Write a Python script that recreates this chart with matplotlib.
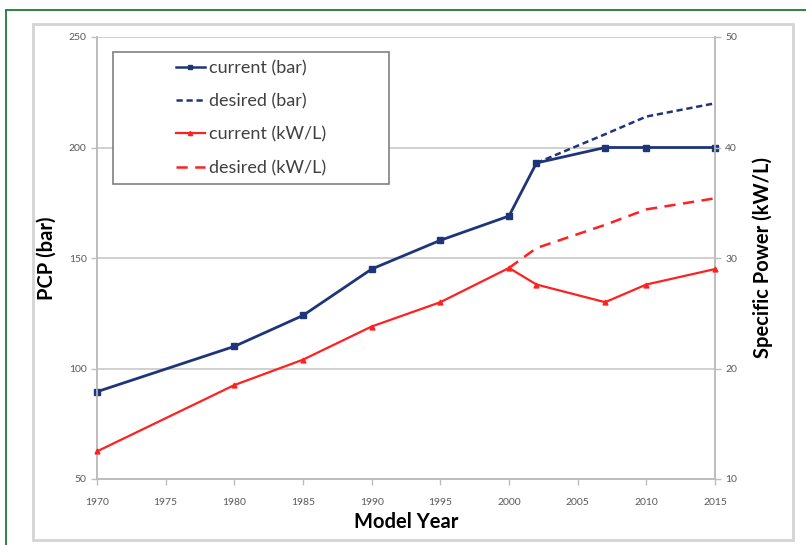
import matplotlib
matplotlib.use("Agg")
import matplotlib.pyplot as plt
from matplotlib.patches import Rectangle
from matplotlib.lines import Line2D

# data
years_cur = [1970, 1980, 1985, 1990, 1995, 2000, 2002, 2007, 2010, 2015]
pcp_cur = [89.5, 110, 124, 145, 158, 169, 193, 200, 200, 200]
kwl_cur = [12.5, 18.5, 20.8, 23.8, 26.0, 29.1, 27.6, 26.0, 27.6, 29.0]

years_des_bar = [2002, 2007, 2010, 2015]
pcp_des = [193, 206, 214, 220]
years_des_kwl = [2000, 2002, 2007, 2010, 2015]
kwl_des = [29.1, 30.9, 33.0, 34.4, 35.4]

x_ticks = list(range(1970, 2016, 5))
left_ticks = [50, 100, 150, 200, 250]
right_ticks = [10, 20, 30, 40, 50]

navy = "#1f3579"
red = "#ff2020"
tick_gray = "#595959"
font = ["Lato", "DejaVu Sans"]

W, H = 806, 545
fig = plt.figure(figsize=(W / 100, H / 100), dpi=100)

# outer green frame and grey chart frame
fig.patches.append(Rectangle((6 / W, -0.05), 1.1, 1 - 10 / H + 0.05,
                             transform=fig.transFigure, fill=False,
                             edgecolor="#1e7b34", linewidth=1.3))
fig.patches.append(Rectangle((33 / W, 1 - 540 / H), 760 / W, 516 / H,
                             transform=fig.transFigure, fill=False,
                             edgecolor="#d4d4d4", linewidth=2))

ax = fig.add_axes([97 / W, 1 - 479 / H, 618 / W, 442 / H])
ax2 = ax.twinx()

ax.set_xlim(1970, 2015)
ax.set_ylim(50, 250)
ax2.set_ylim(10, 50)

ax.set_xticks(x_ticks)
ax.set_yticks(left_ticks)
ax2.set_yticks(right_ticks)
ax.yaxis.grid(True, color="#c8c8c8", linewidth=1.2)
ax.set_axisbelow(True)

for a in (ax, ax2):
    for side in ("left", "right", "bottom"):
        a.spines[side].set_color("#bdbdbd")
        a.spines[side].set_linewidth(1.2)
    a.spines["top"].set_visible(False)
    a.tick_params(colors="#bdbdbd", labelcolor=tick_gray, labelsize=7.5,
                  length=4, width=1)
ax.tick_params(axis="x", pad=10)
for lab in ax.get_xticklabels() + ax.get_yticklabels() + ax2.get_yticklabels():
    lab.set_family(font)

ax.plot(years_cur, pcp_cur, color=navy, lw=2, marker="s", ms=5,
        zorder=3, clip_on=False)
ax.plot(years_des_bar, pcp_des, color=navy, lw=1.8, ls=(0, (2.5, 1.5)),
        zorder=3)
ax2.plot(years_cur, kwl_cur, color=red, lw=1.6, marker="^", ms=3.5,
         zorder=3, clip_on=False)
ax2.plot(years_des_kwl, kwl_des, color=red, lw=1.8, ls=(0, (4.5, 3)),
         zorder=3)

ax.set_xlabel("Model Year", family=font, fontsize=14.5, fontweight="bold",
              labelpad=3)
ax.set_ylabel("PCP (bar)", family=font, fontsize=14.5, fontweight="bold",
              labelpad=9)
ax2.set_ylabel("Specific Power (kW/L)", family=font, fontsize=14.5,
               fontweight="bold", labelpad=11)

# legend frame drawn separately so its size matches the reference box
fig.patches.append(Rectangle((113 / W, 1 - 184 / H), 276 / W, 132 / H,
                             transform=fig.transFigure, facecolor="white",
                             edgecolor="#808080", linewidth=1.2, zorder=4))
handles = [
    Line2D([], [], color=navy, lw=1.8, marker="s", ms=3.5),
    Line2D([], [], color=navy, lw=1.8, ls=(0, (2.5, 1.5))),
    Line2D([], [], color=red, lw=1.6, marker="^", ms=3),
    Line2D([], [], color=red, lw=1.8, ls=(0, (4.5, 3))),
]
labels = ["current (bar)", "desired (bar)", "current (kW/L)", "desired (kW/L)"]
leg = fig.legend(handles, labels, loc="center",
                 bbox_to_anchor=(251 / W, 1 - 118 / H),
                 frameon=False, prop={"family": font, "size": 13},
                 handlelength=1.6, handletextpad=0.25, labelspacing=0.95,
                 borderpad=0)
leg.set_zorder(5)
for t in leg.get_texts():
    t.set_color("#404040")

fig.savefig("out.png", dpi=100)
